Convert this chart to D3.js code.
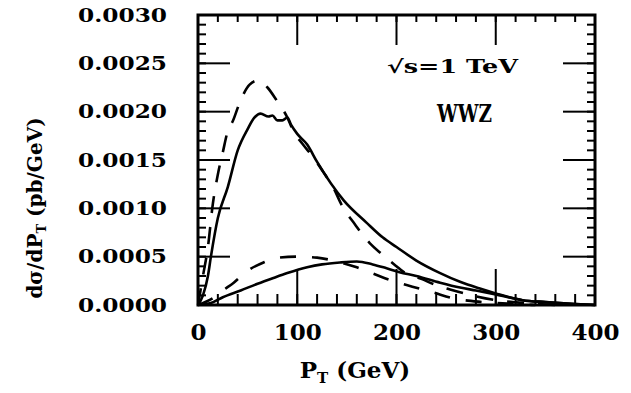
<!DOCTYPE html>
<html>
<head>
<meta charset="utf-8">
<script src="https://cdn.jsdelivr.net/npm/d3@7"></script>
<style>
body { margin: 0; background: #fff; }
text { font-family: "DejaVu Serif", serif; font-weight: bold; fill: #000; }
</style>
</head>
<body>
<div id="chart"></div>
<script>
const MARGIN = { LEFT: 198, RIGHT: 36, TOP: 15, BOTTOM: 88 }
const WIDTH = 631 - MARGIN.LEFT - MARGIN.RIGHT
const HEIGHT = 393 - MARGIN.TOP - MARGIN.BOTTOM

// tick labels
const xTicks = [0, 100, 200, 300, 400]
const yTicks = [0, 0.0005, 0.0010, 0.0015, 0.0020, 0.0025, 0.0030]

// upper solid curve
const ptSolidHigh = [0, 5, 10, 13, 20, 30, 40, 50, 57, 63, 71, 75, 80, 85, 90, 94, 100, 110, 120, 147, 170, 186, 200, 220, 244, 264, 284, 300, 327, 350, 380, 400]
const solidHigh = [0, 0.0001, 0.0003, 0.0005, 0.0009, 0.00122, 0.0016, 0.00182, 0.00194, 0.00198, 0.00195, 0.00196, 0.00191, 0.00191, 0.00194, 0.00186, 0.00177, 0.00166, 0.00148, 0.00108, 0.00085, 0.0007, 0.0006, 0.00046, 0.00033, 0.00024, 0.00017, 0.00012, 0.00005, 0.00003, 0.00001, 0]

// upper dashed curve
const ptDashHigh = [0, 5, 10, 15, 20, 25, 30, 35, 43, 52, 60, 70, 79, 90, 96, 105, 116, 126, 136, 146, 157, 173, 186, 200, 206, 225, 244, 254, 280, 300, 330, 360]
const dashHigh = [0, 0.0003, 0.0006, 0.00105, 0.00135, 0.00158, 0.0018, 0.0019, 0.00212, 0.00228, 0.00232, 0.00225, 0.00212, 0.00194, 0.0018, 0.00167, 0.00153, 0.00138, 0.00122, 0.00101, 0.00085, 0.00064, 0.00052, 0.0004, 0.00035, 0.00027, 0.00019, 0.00016, 0.00009, 0.00005, 0.00002, 0]

// lower solid curve
const ptSolidLow = [0, 13, 25, 43, 60, 76, 90, 110, 125, 143, 160, 176, 190, 203, 220, 244, 264, 280, 300, 327, 350, 380, 400]
const solidLow = [0, 0.00002, 0.00008, 0.00015, 0.00022, 0.00028, 0.00033, 0.00039, 0.00042, 0.00044, 0.00045, 0.00042, 0.00038, 0.00034, 0.0003, 0.00023, 0.00018, 0.00015, 0.00011, 0.00005, 0.00003, 0.00001, 0]

// lower dashed curve
const ptDashLow = [0, 15, 25, 36, 48, 66, 81, 100, 120, 140, 160, 180, 193, 216, 237, 257, 287, 320, 340]
const dashLow = [0, 0.00007, 0.00015, 0.00023, 0.00034, 0.00044, 0.00049, 0.0005, 0.00049, 0.00045, 0.00039, 0.00031, 0.00026, 0.00019, 0.00013, 0.00007, 0.00003, 0.00001, 0]

const svg = d3.select("#chart").append("svg")
		.attr("width", WIDTH + MARGIN.LEFT + MARGIN.RIGHT)
		.attr("height", HEIGHT + MARGIN.TOP + MARGIN.BOTTOM)
	.append("g")
		.attr("transform", `translate(${MARGIN.LEFT}, ${MARGIN.TOP})`)

// Scales
const x = d3.scaleLinear().domain([0, 400]).range([0, WIDTH])
const y = d3.scaleLinear().domain([0, 0.003]).range([HEIGHT, 0])

// tick marks, all pointing inward from the frame
const xMinor = d3.range(0, 401, 20)
const yMinor = d3.range(0, 31).map(i => i * 0.0001)

function xMarks(values, y0, len) {
	svg.append("g").selectAll("line")
		.data(values)
		.enter().append("line")
			.attr("x1", d => x(d)).attr("x2", d => x(d))
			.attr("y1", y0).attr("y2", y0 + len)
			.attr("stroke", "#000").attr("stroke-width", 2)
}
function yMarks(values, x0, len) {
	svg.append("g").selectAll("line")
		.data(values)
		.enter().append("line")
			.attr("y1", d => y(d)).attr("y2", d => y(d))
			.attr("x1", x0).attr("x2", x0 + len)
			.attr("stroke", "#000").attr("stroke-width", 2)
}
xMarks(xMinor, HEIGHT, -11)
xMarks(xTicks, HEIGHT, -36)
xMarks(xMinor, 0, 7)
xMarks(xTicks, 0, 30)
yMarks(yMinor, 0, 8)
yMarks(yTicks, 0, 32)
yMarks(yMinor, WIDTH, -8)
yMarks(yTicks, WIDTH, -32)

// X Axis labels
const xAxis = svg.append("g")
	.attr("transform", `translate(0, ${HEIGHT})`)
	.call(d3.axisBottom(x).tickValues(xTicks).tickSize(0).tickPadding(19).tickFormat(d3.format("d")))
xAxis.select(".domain").remove()
xAxis.selectAll("text").attr("font-size", "23px")

// Y Axis labels
const yAxis = svg.append("g")
	.call(d3.axisLeft(y).tickValues(yTicks).tickSize(0).tickPadding(31).tickFormat(d3.format(".4f")))
yAxis.select(".domain").remove()
yAxis.selectAll("text").attr("font-size", "19px")
	.attr("textLength", 89).attr("lengthAdjust", "spacingAndGlyphs")

// frame
svg.append("rect")
	.attr("width", WIDTH).attr("height", HEIGHT)
	.attr("fill", "none").attr("stroke", "#000").attr("stroke-width", 3)

// curves
const line = d3.line()
	.x(d => x(d[0]))
	.y(d => y(d[1]))
	.curve(d3.curveMonotoneX)

const curves = [
	{ pt: ptSolidHigh, v: solidHigh, dash: null },
	{ pt: ptDashHigh, v: dashHigh, dash: "17,14" },
	{ pt: ptSolidLow, v: solidLow, dash: null },
	{ pt: ptDashLow, v: dashLow, dash: "16,16" }
]
curves.forEach(c => {
	svg.append("path")
		.attr("d", line(d3.zip(c.pt, c.v)))
		.attr("fill", "none")
		.attr("stroke", "#000")
		.attr("stroke-width", 2.6)
		.attr("stroke-dasharray", c.dash)
})

// Labels
const xLabel = svg.append("text")
	.attr("x", 157)
	.attr("y", HEIGHT + 73)
	.attr("font-size", "23px")
	.attr("text-anchor", "middle")
xLabel.append("tspan").text("P")
xLabel.append("tspan").attr("font-size", "15px").attr("dy", 5).text("T")
xLabel.append("tspan").attr("dy", -5).text(" (GeV)")

const yLabel = svg.append("text")
	.attr("transform", `translate(${42 - MARGIN.LEFT}, ${208 - MARGIN.TOP}) rotate(-90)`)
	.attr("font-size", "20px")
	.attr("text-anchor", "middle")
yLabel.append("tspan").text("dσ/dP")
yLabel.append("tspan").attr("font-size", "13px").attr("dy", 4).text("T")
yLabel.append("tspan").attr("dy", -4).text(" (pb/GeV)")

svg.append("text")
	.attr("x", 387 - MARGIN.LEFT)
	.attr("y", 73 - MARGIN.TOP)
	.attr("font-size", "18px")
	.attr("textLength", 131)
	.attr("lengthAdjust", "spacingAndGlyphs")
	.text("√s=1 TeV")

svg.append("text")
	.attr("x", 437 - MARGIN.LEFT)
	.attr("y", 122 - MARGIN.TOP)
	.attr("font-size", "25px")
	.attr("textLength", 55)
	.attr("lengthAdjust", "spacingAndGlyphs")
	.text("WWZ")

// force a layout pass so every tick is laid out before the picture is taken
document.querySelectorAll("line").forEach(l => l.getBoundingClientRect())
</script>
</body>
</html>
